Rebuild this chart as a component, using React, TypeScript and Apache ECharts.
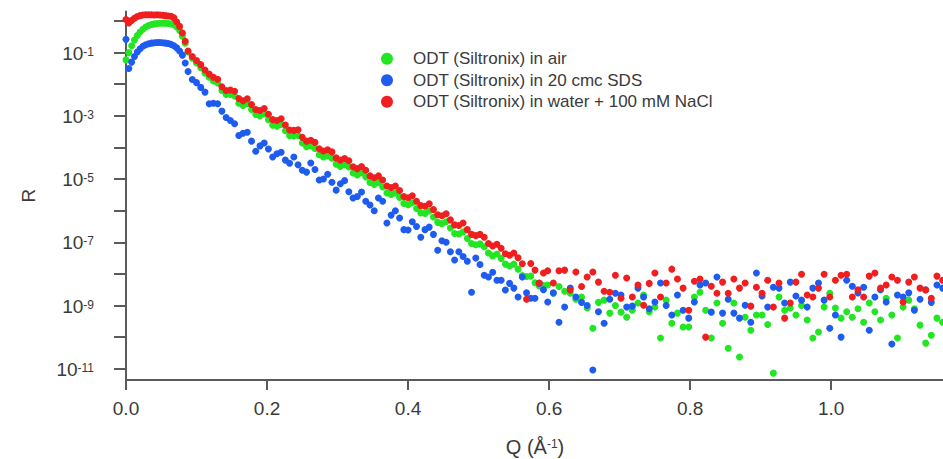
import React, { useEffect, useRef } from "react";
import * as echarts from "echarts";

// Q values (Å^-1), shared by all three measurements
const qValues = [
  0.000, 0.004, 0.008, 0.012, 0.016, 0.020, 0.024, 0.028, 0.032, 0.036, 0.040, 0.044,
  0.048, 0.052, 0.056, 0.060, 0.064, 0.068, 0.072, 0.076, 0.080, 0.084, 0.088,
  0.094, 0.100, 0.106, 0.112, 0.118, 0.124, 0.130, 0.136, 0.142, 0.148, 0.154, 0.160,
  0.166, 0.172, 0.178, 0.184, 0.190, 0.196, 0.202, 0.208, 0.214, 0.220, 0.226, 0.232,
  0.238, 0.244, 0.250, 0.256, 0.262, 0.268, 0.274, 0.280, 0.286, 0.292, 0.298, 0.304,
  0.310, 0.316, 0.322, 0.328, 0.334, 0.340, 0.346, 0.352, 0.358, 0.364, 0.370, 0.376,
  0.382, 0.388, 0.394, 0.400, 0.406, 0.412, 0.418, 0.424, 0.430, 0.436, 0.442, 0.448,
  0.454, 0.460, 0.466, 0.472, 0.478, 0.484, 0.490, 0.496, 0.502, 0.508, 0.514, 0.520,
  0.526, 0.532, 0.538, 0.544, 0.550, 0.556, 0.562, 0.568, 0.574, 0.580, 0.586, 0.592, 0.598,
  0.606, 0.614, 0.622, 0.630, 0.638, 0.646, 0.654, 0.662, 0.670, 0.678, 0.686, 0.694,
  0.702, 0.710, 0.718, 0.726, 0.734, 0.742, 0.750, 0.758, 0.766, 0.774, 0.782, 0.790,
  0.798, 0.806, 0.814, 0.822, 0.830, 0.838, 0.846, 0.854, 0.862, 0.870, 0.878, 0.886,
  0.894, 0.902, 0.910, 0.918, 0.926, 0.934, 0.942, 0.950, 0.958, 0.966, 0.974, 0.982,
  0.990, 0.998, 1.006, 1.014, 1.022, 1.030, 1.038, 1.046, 1.054, 1.062, 1.070, 1.078,
  1.086, 1.094, 1.102, 1.110, 1.118, 1.126, 1.134, 1.142, 1.150, 1.158,
];

// log10(R)
const airLog10R = [
  -1.23, -1.0, -0.78, -0.6, -0.46, -0.35, -0.26, -0.19, -0.14, -0.11, -0.09, -0.08,
  -0.07, -0.07, -0.07, -0.08, -0.09, -0.12, -0.19, -0.30, -0.48, -0.70, -0.98,
  -1.18, -1.33, -1.48, -1.65, -1.78, -1.90, -1.96, -2.20, -2.32, -2.32, -2.37, -2.60,
  -2.67, -2.62, -2.80, -2.96, -3.00, -2.94, -3.12, -3.30, -3.33, -3.27, -3.47, -3.63,
  -3.64, -3.62, -3.86, -3.98, -3.95, -4.03, -4.23, -4.30, -4.26, -4.34, -4.53, -4.60,
  -4.55, -4.62, -4.81, -4.87, -4.80, -4.93, -5.11, -5.17, -5.11, -5.25, -5.44, -5.49,
  -5.44, -5.58, -5.77, -5.81, -5.75, -5.93, -6.07, -6.09, -6.01, -6.20, -6.37, -6.41,
  -6.35, -6.55, -6.72, -6.74, -6.67, -6.88, -7.04, -7.08, -7.05, -7.14, -7.34, -7.43,
  -7.37, -7.51, -7.69, -7.75, -7.69, -7.85, -8.05, -8.08, -8.07, -8.28, -8.38, -8.37, -8.35,
  -8.61, -8.40, -8.55, -8.61, -8.80, -8.73, -9.08, -9.72, -8.90, -8.83, -9.24, -9.00,
  -9.21, -9.37, -9.15, -8.92, -8.67, -9.20, -9.05, -10.03, -8.83, -9.56, -9.24, -9.68,
  -9.68, -8.73, -8.58, -9.15, -10.03, -8.92, -9.56, -10.35, -8.92, -10.63, -9.37, -9.78,
  -9.30, -9.30, -9.60, -11.14, -8.73, -9.15, -9.08, -9.30, -9.00, -9.46, -10.03, -9.84,
  -9.05, -8.61, -9.08, -9.40, -9.20, -9.37, -9.10, -9.53, -8.92, -9.20, -9.46, -8.77,
  -9.30, -10.03, -9.05, -8.83, -9.10, -9.62, -10.19, -9.94, -9.40, -9.53,
];

const sdsLog10R = [
  -0.58, -1.5, -1.3, -1.12, -0.98, -0.88, -0.80, -0.75, -0.72, -0.70, -0.69, -0.68,
  -0.68, -0.69, -0.70, -0.71, -0.74, -0.78, -0.85, -0.95, -1.08, -1.33, -1.6,
  -1.85, -1.95, -2.10, -2.25, -2.62, -2.60, -2.62, -2.85, -3.05, -3.15, -3.25, -3.62,
  -3.55, -3.52, -3.80, -4.12, -3.95, -3.86, -4.05, -4.30, -4.20, -4.15, -4.40, -4.50,
  -4.30, -4.55, -4.72, -4.78, -4.49, -4.70, -5.03, -5.00, -4.85, -5.10, -5.35, -5.15,
  -5.05, -5.40, -5.60, -5.55, -5.41, -5.70, -5.82, -6.00, -5.60, -5.70, -6.39, -6.14,
  -6.00, -6.23, -6.60, -6.61, -6.35, -6.50, -6.84, -6.60, -6.52, -6.75, -7.25, -6.95,
  -7.00, -7.30, -7.56, -7.30, -7.45, -7.60, -8.58, -7.50, -7.70, -8.04, -8.10, -7.95,
  -8.20, -8.20, -8.51, -8.30, -8.45, -8.73, -8.10, -8.60, -8.77, -8.77, -8.30, -8.50, -8.89,
  -8.60, -9.53, -9.05, -8.45, -8.73, -8.90, -9.00, -11.04, -9.20, -9.56, -8.80, -8.61,
  -8.67, -9.05, -9.02, -8.45, -8.73, -9.10, -8.89, -8.29, -9.00, -9.30, -8.67, -9.15,
  -9.40, -8.89, -8.35, -8.29, -9.21, -8.10, -9.24, -8.80, -9.24, -9.40, -8.99, -9.53,
  -7.97, -8.70, -9.05, -8.42, -8.45, -8.92, -8.26, -8.70, -8.83, -9.05, -8.45, -8.29,
  -8.83, -9.72, -9.30, -10.00, -8.20, -8.39, -8.60, -8.42, -9.78, -8.73, -8.50, -8.89,
  -10.22, -8.67, -8.73, -8.60, -9.15, -8.80, -8.50, -8.90, -8.35, -8.45,
];

const naclLog10R = [
  0.05, -0.06, 0.02, 0.09, 0.14, 0.17, 0.19, 0.20, 0.20, 0.20, 0.19, 0.20,
  0.19, 0.18, 0.17, 0.16, 0.15, 0.10, -0.03, -0.17, -0.38, -0.64, -0.95,
  -1.12, -1.25, -1.38, -1.55, -1.68, -1.78, -1.84, -2.08, -2.20, -2.18, -2.22, -2.45,
  -2.52, -2.46, -2.64, -2.80, -2.83, -2.77, -2.95, -3.12, -3.15, -3.09, -3.29, -3.45,
  -3.46, -3.44, -3.68, -3.80, -3.77, -3.84, -4.04, -4.11, -4.07, -4.14, -4.33, -4.40,
  -4.35, -4.42, -4.61, -4.67, -4.60, -4.72, -4.90, -4.96, -4.90, -5.03, -5.22, -5.27,
  -5.22, -5.36, -5.55, -5.59, -5.53, -5.70, -5.84, -5.86, -5.78, -5.96, -6.13, -6.16,
  -6.10, -6.29, -6.45, -6.47, -6.39, -6.60, -6.75, -6.79, -6.75, -6.84, -7.04, -7.12,
  -7.06, -7.19, -7.36, -7.41, -7.34, -7.49, -7.68, -8.80, -7.67, -7.88, -8.29, -7.97, -7.90,
  -8.29, -7.90, -7.88, -8.51, -7.94, -8.40, -8.10, -7.94, -8.26, -8.55, -8.58, -8.04,
  -8.77, -8.13, -8.73, -8.35, -8.99, -8.30, -7.97, -8.73, -8.29, -7.85, -8.16, -8.45,
  -9.15, -8.23, -8.16, -10.0, -8.39, -8.61, -8.26, -8.61, -8.16, -8.45, -8.29, -9.02,
  -8.42, -8.61, -8.20, -9.05, -8.29, -9.40, -8.92, -8.26, -8.01, -8.67, -8.73, -8.45,
  -8.01, -8.73, -8.20, -8.04, -8.01, -8.73, -8.50, -8.73, -8.07, -7.97, -8.45, -8.35,
  -8.10, -8.20, -8.89, -8.26, -8.10, -8.45, -8.51, -8.77, -8.07, -8.20,
];

const seriesNames = [
  "ODT (Siltronix) in air",
  "ODT (Siltronix) in 20 cmc SDS",
  "ODT (Siltronix) in water + 100 mM NaCl",
];
const seriesColors = ["#22e622", "#1e5cf0", "#f01e1e"];
const xTickLabels = ["0.0", "0.2", "0.4", "0.6", "0.8", "1.0"];

// axis ranges
const yMin = 4.4e-12;
const yMax = 2;
const yTickMin = 1e-11;
const yTickMax = 1;

const FONT = "'Liberation Sans', Arial, sans-serif";
const AXIS_COLOR = "#5a5a5a";
const TEXT_COLOR = "#3a3a3a";

function toPoints(logs: number[]) {
  return qValues.map((q, i) => [q, Math.pow(10, logs[i])]);
}

export default function App() {
  const ref = useRef<HTMLDivElement>(null);

  useEffect(() => {
    if (!ref.current) return;
    const chart = echarts.init(ref.current, undefined, { renderer: "svg" });
    const all = [airLog10R, sdsLog10R, naclLog10R];

    // plot geometry
    const gLeft = 126;
    const gTop = 11.5;
    const gHeight = 368.5;
    const pxPerDecade = gHeight / (Math.log10(yMax) - Math.log10(yMin));
    const tTop = gTop + (Math.log10(yMax) - Math.log10(yTickMax)) * pxPerDecade;
    const tHeight = (Math.log10(yTickMax) - Math.log10(yTickMin)) * pxPerDecade;

    chart.setOption({
      animation: false,
      backgroundColor: "#ffffff",
      textStyle: { fontFamily: FONT },
      grid: [
        { left: gLeft, top: gTop, width: 818, height: gHeight, containLabel: false, outerBoundsMode: "none" },
        { left: gLeft, top: tTop, width: 818, height: tHeight, containLabel: false, outerBoundsMode: "none" },
      ],
      legend: {
        data: seriesNames,
        orient: "vertical",
        left: 376,
        top: 43,
        icon: "circle",
        itemWidth: 12,
        itemHeight: 12,
        itemGap: 0,
        textStyle: { fontSize: 17, color: TEXT_COLOR, fontFamily: FONT, lineHeight: 21.5, padding: [0, 0, 0, 15] },
      },
      xAxis: [
        {
          type: "value",
          gridIndex: 0,
          min: 0,
          max: 1.16,
          interval: 0.2,
          splitLine: { show: false },
          axisLine: { show: true, lineStyle: { color: AXIS_COLOR, width: 2 } },
          axisTick: { show: true, length: 10, lineStyle: { color: AXIS_COLOR, width: 2 } },
          axisLabel: {
            margin: 19,
            fontSize: 19,
            color: TEXT_COLOR,
            fontFamily: FONT,
            showMaxLabel: false,
            formatter: (v: number) => {
              const k = Math.round(v / 0.2);
              if (Math.abs(v / 0.2 - k) > 1e-6 || k >= xTickLabels.length) return "";
              return xTickLabels[k];
            },
          },
          name: "{a|Q (Å}{s|-1}{a|)}",
          nameLocation: "middle",
          nameGap: 56,
          nameTextStyle: {
            fontSize: 20,
            color: TEXT_COLOR,
            fontFamily: FONT,
            rich: {
              a: { fontSize: 20, color: TEXT_COLOR, fontFamily: FONT, lineHeight: 21, padding: [7, 0, 0, 0], verticalAlign: "bottom" },
              s: { fontSize: 12, color: TEXT_COLOR, fontFamily: FONT, lineHeight: 13, padding: [2, 0, 0, 0], verticalAlign: "top" },
            },
          },
        },
        {
          type: "value",
          gridIndex: 1,
          min: 0,
          max: 1.16,
          show: false,
        },
      ],
      yAxis: [
        {
          type: "log",
          logBase: 10,
          gridIndex: 0,
          min: yMin,
          max: yMax,
          splitLine: { show: false },
          axisLine: { show: true, onZero: false, lineStyle: { color: AXIS_COLOR, width: 2 } },
          axisTick: { show: false },
          axisLabel: { show: false },
          name: "R",
          nameLocation: "middle",
          nameGap: 88,
          nameTextStyle: { fontSize: 19, color: TEXT_COLOR, fontFamily: FONT },
        },
        {
          type: "log",
          logBase: 10,
          gridIndex: 1,
          min: yTickMin,
          max: yTickMax,
          interval: 1,
          splitLine: { show: false },
          axisLine: { show: false, onZero: false },
          axisTick: { show: true, length: 12, lineStyle: { color: AXIS_COLOR, width: 2 } },
          axisLabel: {
            margin: 32,
            fontSize: 19,
            color: TEXT_COLOR,
            fontFamily: FONT,
            formatter: (v: number) => {
              const e = Math.log10(v);
              const r = Math.round(e);
              if (Math.abs(e - r) > 1e-6 || r % 2 === 0) return "";
              return `{b|10}{s|${r}}`;
            },
            rich: {
              b: { fontSize: 19, color: TEXT_COLOR, fontFamily: FONT, lineHeight: 20, padding: [8, 0, 0, 0], verticalAlign: "bottom" },
              s: { fontSize: 12, color: TEXT_COLOR, fontFamily: FONT, lineHeight: 12, padding: [3, 0, 0, 0], verticalAlign: "top" },
            },
          },
        },
      ],
      series: all.map((logs, i) => ({
        name: seriesNames[i],
        type: "scatter",
        xAxisIndex: 0,
        yAxisIndex: 0,
        symbol: "circle",
        symbolSize: 7,
        itemStyle: { color: seriesColors[i], opacity: 1 },
        emphasis: { disabled: true },
        data: toPoints(logs),
      })),
    });
    return () => chart.dispose();
  }, []);

  return (
    <div
      ref={ref}
      style={{ position: "fixed", left: 0, top: 0, width: 943, height: 459, background: "#fff" }}
    />
  );
}
